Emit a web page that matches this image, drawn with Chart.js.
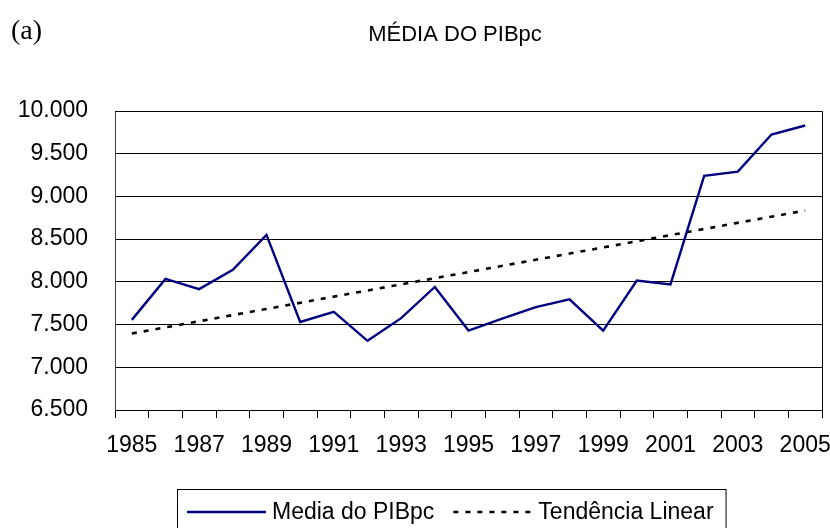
<!DOCTYPE html>
<html>
<head>
<meta charset="utf-8">
<script src="https://cdn.jsdelivr.net/npm/chart.js@4.4.1/dist/chart.umd.min.js"></script>
<style>
  html, body { margin: 0; padding: 0; background: #fff; }
  #wrap { width: 830px; height: 528px; }
</style>
</head>
<body>
<div id="wrap"><canvas id="pibChart" width="830" height="528"></canvas></div>
<script>
// anos do eixo x
const years = ["1985", "1986", "1987", "1988", "1989", "1990", "1991", "1992", "1993", "1994",
  "1995", "1996", "1997", "1998", "1999", "2000", "2001", "2002", "2003", "2004", "2005"];

// média do PIB per capita
const mediaPIBpc = [7555, 8035, 7915, 8140, 8550, 7530, 7650, 7310, 7575, 7940,
  7430, 7570, 7705, 7795, 7430, 8015, 7970, 9240, 9290, 9725, 9830];

// tendência linear: só os extremos, a reta liga os dois
const tendencia = [7395, null, null, null, null, null, null, null, null, null,
  null, null, null, null, null, null, null, null, null, null, 8835];

const yTicks = [6500, 7000, 7500, 8000, 8500, 9000, 9500, 10000];

const fontSans = "'Liberation Sans', Arial, sans-serif";

// formato brasileiro: 10.000
function fmt(v) {
  return v.toLocaleString('pt-BR');
}

// titulo, "(a)", moldura e legenda em caixa
const extras = {
  id: 'extras',
  afterDraw(chart) {
    const ctx = chart.ctx;
    const a = chart.chartArea;
    ctx.save();

    ctx.fillStyle = '#000';
    ctx.textBaseline = 'alphabetic';
    ctx.font = "28px 'Liberation Serif', 'Times New Roman', serif";
    ctx.textAlign = 'left';
    ctx.fillText('(a)', 11, 39);

    ctx.font = '22px ' + fontSans;
    ctx.textAlign = 'center';
    ctx.fillText('MÉDIA DO PIBpc', 455, 41);

    // borda de cima e da direita
    ctx.strokeStyle = '#000';
    ctx.lineWidth = 1;
    ctx.beginPath();
    ctx.moveTo(a.left, a.top + 0.5);
    ctx.lineTo(a.right + 0.5, a.top + 0.5);
    ctx.lineTo(a.right + 0.5, a.bottom + 8);
    ctx.stroke();

    // legenda
    const ds = chart.data.datasets;
    ctx.font = '23px ' + fontSans;
    ctx.textAlign = 'left';
    const boxLeft = 177, boxTop = 489, lineY = 512;
    let x = boxLeft + 10;
    ds.forEach((d, i) => {
      ctx.save();
      ctx.strokeStyle = d.borderColor;
      ctx.lineWidth = d.borderWidth;
      ctx.setLineDash(d.borderDash || []);
      ctx.beginPath();
      ctx.moveTo(x, lineY);
      ctx.lineTo(x + 79, lineY);
      ctx.stroke();
      ctx.restore();
      x += 85;
      ctx.fillText(d.label, x, 519);
      x += ctx.measureText(d.label).width;
      if (i < ds.length - 1) x += 19;
    });
    ctx.strokeStyle = '#000';
    ctx.lineWidth = 1;
    ctx.strokeRect(boxLeft + 0.5, boxTop + 0.5, x + 12 - boxLeft, 60);

    ctx.restore();
  }
};

new Chart(document.getElementById('pibChart').getContext('2d'), {
  type: 'line',
  data: {
    labels: years,
    datasets: [
      {
        label: 'Media do PIBpc',
        data: mediaPIBpc,
        borderColor: '#000080',
        borderWidth: 2.4,
        pointRadius: 0,
        tension: 0,
        fill: false
      },
      {
        label: 'Tendência Linear',
        data: tendencia,
        borderColor: '#000',
        borderWidth: 2.6,
        borderDash: [5, 7],
        pointRadius: 0,
        tension: 0,
        spanGaps: true,
        fill: false
      }
    ]
  },
  options: {
    responsive: false,
    animation: false,
    events: [],
    layout: { padding: { left: 0, right: 8, top: 111, bottom: 0 } },
    plugins: {
      legend: { display: false },
      title: { display: false },
      tooltip: { enabled: false }
    },
    scales: {
      x: {
        type: 'category',
        offset: true,
        grid: {
          drawOnChartArea: false,
          drawTicks: true,
          tickLength: 8,
          color: '#000',
          offset: true
        },
        border: { display: true, color: '#000', width: 1 },
        ticks: {
          autoSkip: false,
          maxRotation: 0,
          minRotation: 0,
          padding: 14,
          color: '#000',
          font: { family: fontSans, size: 23 },
          callback: function (val, idx) {
            return idx % 2 === 0 ? years[idx] : '';
          }
        },
        afterFit(s) {
          s.height = 118;
          s.paddingLeft = 0;
          s.paddingRight = 0;
        }
      },
      y: {
        min: 6500,
        max: 10000,
        afterBuildTicks(s) {
          s.ticks = yTicks.map(v => ({ value: v }));
        },
        grid: {
          drawTicks: false,
          color: '#000',
          lineWidth: 1
        },
        border: { display: true, color: '#444', width: 1 },
        ticks: {
          padding: 27,
          color: '#000',
          font: { family: fontSans, size: 23 },
          callback: v => fmt(v)
        },
        afterFit(s) {
          s.width = 115;
        }
      }
    }
  },
  plugins: [extras]
});
</script>
</body>
</html>
